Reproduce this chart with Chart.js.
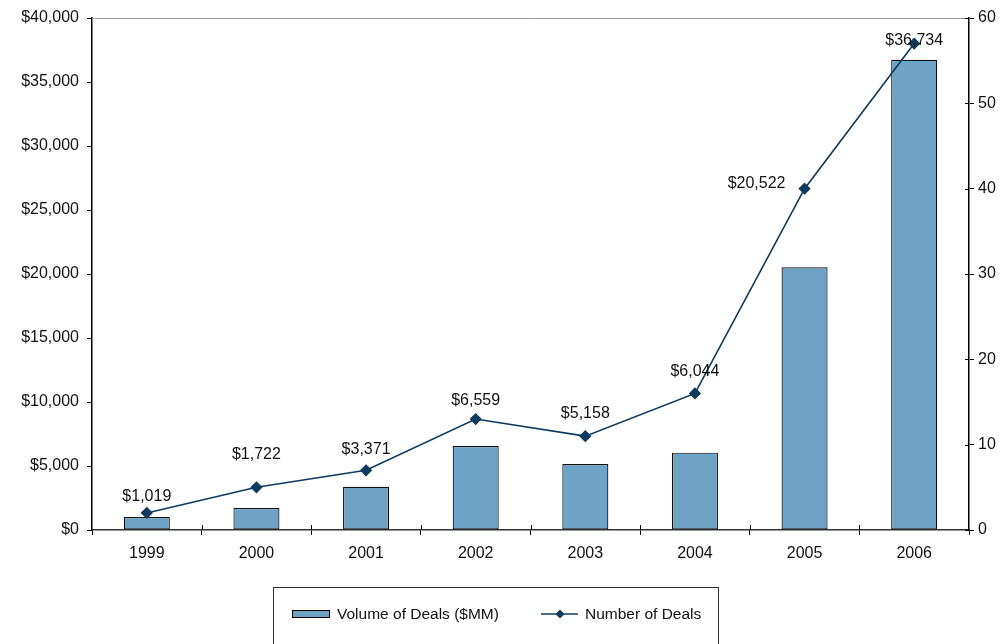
<!DOCTYPE html>
<html>
<head>
<meta charset="utf-8">
<script src="https://cdn.jsdelivr.net/npm/chart.js@4/dist/chart.umd.min.js"></script>
<style>
  html, body { margin: 0; padding: 0; background: #fff; }
  #wrap { width: 1002px; height: 644px; position: relative; }
</style>
</head>
<body>
<div id="wrap"><canvas id="c" width="1002" height="644"></canvas></div>
<script>
// Deal activity by year
const years = ['1999', '2000', '2001', '2002', '2003', '2004', '2005', '2006'];
const volumeMM = [1019, 1722, 3371, 6559, 5158, 6044, 20522, 36734];
const dealCount = [2, 5, 7, 13, 11, 16, 40, 57];
const volumeLabels = ['$1,019', '$1,722', '$3,371', '$6,559', '$5,158', '$6,044', '$20,522', '$36,734'];

const FONT = '"Liberation Sans", Arial, sans-serif';
const FONT_SIZE = 16;
const BAR_FILL = '#6fa3c6';
const LINE_COLOR = '#0e3a5e';

const money = v => '$' + v.toLocaleString('en-US');

// Value labels sit above the line marker of the same year (offset in px, per year)
const labelShift = [[0, -16], [0, -33], [0, -21], [0, -18], [0, -23], [0, -22], [-48, -5], [0, -3]];

const valueLabels = {
  id: 'valueLabels',
  afterDatasetsDraw(chart) {
    const ctx = chart.ctx;
    const pts = chart.getDatasetMeta(1).data;
    ctx.save();
    ctx.font = FONT_SIZE + 'px ' + FONT;
    ctx.fillStyle = '#111';
    ctx.textAlign = 'center';
    ctx.textBaseline = 'middle';
    pts.forEach((p, i) => {
      ctx.fillText(volumeLabels[i], p.x + labelShift[i][0], p.y + labelShift[i][1]);
    });
    ctx.restore();
  }
};

const frame = {
  id: 'frame',
  afterDraw(chart) {
    const { ctx, chartArea: a } = chart;
    ctx.save();
    // top border of the plot
    ctx.strokeStyle = '#9a9a9a';
    ctx.lineWidth = 1;
    ctx.beginPath();
    ctx.moveTo(a.left, a.top + 0.5);
    ctx.lineTo(a.right, a.top + 0.5);
    ctx.stroke();

    // tick marks that cross the right axis and the category axis
    ctx.strokeStyle = '#000';
    const y1 = chart.scales.y1;
    y1.ticks.forEach((t, i) => {
      const py = Math.round(y1.getPixelForTick(i)) + 0.5;
      ctx.beginPath();
      ctx.moveTo(a.right - 4, py);
      ctx.lineTo(a.right, py);
      ctx.stroke();
    });
    const xs = chart.scales.x;
    const step = (a.right - a.left) / years.length;
    for (let i = 1; i < years.length; i++) {
      const px = Math.round(a.left + step * i) + 0.5;
      ctx.beginPath();
      ctx.moveTo(px, a.bottom - 5);
      ctx.lineTo(px, a.bottom);
      ctx.stroke();
    }

    // legend box
    const bx = 273.5, by = 587.5, bw = 445, bh = 80;
    ctx.strokeStyle = '#333';
    ctx.strokeRect(bx, by, bw, bh);
    const cy = 614;
    ctx.font = '15.5px ' + FONT;
    ctx.textBaseline = 'middle';
    ctx.textAlign = 'left';
    // bar item
    ctx.fillStyle = BAR_FILL;
    ctx.fillRect(292, cy - 4, 38, 8);
    ctx.strokeStyle = '#000';
    ctx.strokeRect(292.5, cy - 3.5, 37, 7);
    ctx.fillStyle = '#111';
    ctx.fillText(chart.data.datasets[0].label, 337, cy + 1);
    // line item
    ctx.strokeStyle = LINE_COLOR;
    ctx.lineWidth = 1.5;
    ctx.beginPath();
    ctx.moveTo(541, cy);
    ctx.lineTo(578, cy);
    ctx.stroke();
    ctx.fillStyle = LINE_COLOR;
    ctx.beginPath();
    ctx.moveTo(560, cy - 4.5);
    ctx.lineTo(564.5, cy);
    ctx.lineTo(560, cy + 4.5);
    ctx.lineTo(555.5, cy);
    ctx.closePath();
    ctx.fill();
    ctx.fillStyle = '#111';
    ctx.fillText(chart.data.datasets[1].label, 585, cy + 1);
    ctx.restore();
  }
};

new Chart(document.getElementById('c'), {
  data: {
    labels: years,
    datasets: [
      {
        type: 'bar',
        label: 'Volume of Deals ($MM)',
        data: volumeMM,
        yAxisID: 'y',
        backgroundColor: BAR_FILL,
        borderColor: '#111',
        borderWidth: 1.2,
        borderSkipped: false,
        categoryPercentage: 1,
        barPercentage: 0.42,
        order: 2
      },
      {
        type: 'line',
        label: 'Number of Deals',
        data: dealCount,
        yAxisID: 'y1',
        borderColor: LINE_COLOR,
        borderWidth: 1.6,
        pointStyle: 'rectRot',
        pointRadius: 5,
        pointBackgroundColor: LINE_COLOR,
        pointBorderColor: LINE_COLOR,
        tension: 0,
        order: 1
      }
    ]
  },
  options: {
    responsive: false,
    animation: false,
    layout: { padding: { top: 18, left: 0, right: 0, bottom: 0 } },
    plugins: {
      legend: { display: false },
      tooltip: { enabled: false }
    },
    scales: {
      x: {
        offset: true,
        grid: { display: true, offset: true, drawOnChartArea: false, tickLength: 5, color: '#000' },
        border: { display: true, color: '#333', width: 1.5 },
        ticks: { font: { family: FONT, size: FONT_SIZE }, color: '#111', padding: 9 },
        afterFit(s) { s.height = 114; }
      },
      y: {
        position: 'left',
        min: 0, max: 40000,
        ticks: { stepSize: 5000, callback: v => money(v), font: { family: FONT, size: FONT_SIZE }, color: '#111', padding: 8 },
        grid: { display: true, drawOnChartArea: false, tickLength: 5, color: '#000' },
        border: { display: true, color: '#000', width: 1.5 },
        afterFit(s) { s.width = 92; }
      },
      y1: {
        position: 'right',
        min: 0, max: 60,
        ticks: { stepSize: 10, font: { family: FONT, size: FONT_SIZE }, color: '#111', padding: 4 },
        grid: { display: true, drawOnChartArea: false, tickLength: 5, color: '#000' },
        border: { display: true, color: '#000', width: 1.5 },
        afterFit(s) { s.width = 33; }
      }
    }
  },
  plugins: [valueLabels, frame]
});
</script>
</body>
</html>
